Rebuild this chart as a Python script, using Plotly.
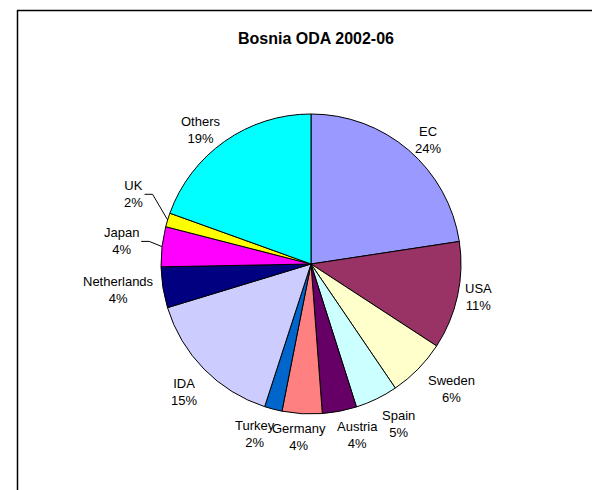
import math
import plotly.graph_objects as go

# ---- data ----
donors = ["EC", "USA", "Sweden", "Spain", "Austria", "Germany", "Turkey",
          "IDA", "Netherlands", "Japan", "UK", "Others"]
shares = [22.6, 11.6, 6.3, 4.6, 3.7, 4.3, 1.9, 15.3, 4.4, 4.3, 1.5, 19.5]
pct_labels = ["24%", "11%", "6%", "5%", "4%", "4%", "2%", "15%", "4%", "4%", "2%", "19%"]
colors = ["#9999FF", "#993366", "#FFFFCC", "#CCFFFF", "#660066", "#FF8080",
          "#0066CC", "#CCCCFF", "#000080", "#FF00FF", "#FFFF00", "#00FFFF"]
title_text = "Bosnia ODA 2002-06"

# ---- layout geometry (pixels) ----
W, H = 592, 490
cx, cy, r = 311, 264, 150
FONT = "Liberation Sans, Arial, sans-serif"
FS = 13
LINE_H = 17

# label placement tweaks (layout only), in pixels: (dx, dy)
label_nudge = {"EC": (3, 0), "USA": (-4, -7), "Sweden": (8, 3), "Spain": (9, 4),
               "Austria": (12, 1), "Germany": (-1, 0), "Turkey": (-10, 2),
               "IDA": (-2, 6), "Netherlands": (2, -4), "Japan": (-11, -7),
               "UK": (-14, -24), "Others": (-6, 0)}
leader_labels = {"UK", "Japan"}

# approximate Arial advance widths (1/1000 em)
AW = {c: 556 for c in "abdeghnopqu0123456789"}
AW.update({"c": 500, "f": 278, "i": 222, "j": 222, "k": 500, "l": 222, "m": 833,
           "r": 333, "s": 500, "t": 278, "v": 500, "w": 722, "x": 500, "y": 500,
           "z": 500, "A": 667, "B": 667, "C": 722, "D": 722, "E": 667, "F": 611,
           "G": 778, "H": 722, "I": 278, "J": 500, "K": 667, "L": 556, "M": 833,
           "N": 722, "O": 778, "P": 667, "R": 722, "S": 667, "T": 611, "U": 722,
           "V": 667, "W": 944, "%": 889, " ": 278})


def text_w(t):
    return sum(AW.get(ch, 556) for ch in t) * FS / 1000.0


def px(x):
    return x / W


def py(y):
    return 1 - y / H


fig = go.Figure(go.Pie(
    labels=donors,
    values=shares,
    sort=False,
    direction="clockwise",
    rotation=0,
    marker=dict(colors=colors, line=dict(color="#000000", width=1)),
    textinfo="none",
    showlegend=False,
    hoverinfo="label+percent",
    domain=dict(x=[px(cx - r), px(cx + r)], y=[py(cy + r), py(cy - r)]),
))

# ---- outside labels, placed from the slice mid-angles ----
total = sum(shares)
annotations = []
shapes = []
cum = 0.0
for name, v, pl in zip(donors, shares, pct_labels):
    mid = (cum + v / 2.0) / total
    cum += v
    th = 2 * math.pi * mid
    s, c = math.sin(th), math.cos(th)
    w = max(text_w(name), text_w(pl))
    dx, dy = label_nudge.get(name, (0, 0))
    x = cx + s * (r + 12 + w / 2.0) + dx
    y = cy - c * (r + 19) + 4 + dy
    annotations.append(dict(
        x=px(x), y=py(y), xref="paper", yref="paper",
        text=name + "<br>" + pl, showarrow=False, xanchor="center", yanchor="middle",
        align="center", font=dict(family=FONT, size=FS, color="#000000"),
    ))
    if name in leader_labels:
        ex, ey = cx + s * r, cy - c * r
        x0 = x + w / 2.0 + 2
        path = "M {:.6f},{:.6f} L {:.6f},{:.6f} L {:.6f},{:.6f}".format(
            px(x0), py(y), px(x0 + 8), py(y), px(ex), py(ey))
        shapes.append(dict(type="path", xref="paper", yref="paper", path=path,
                           line=dict(color="#000000", width=1)))

shapes += [
    dict(type="line", xref="paper", yref="paper", x0=px(17), x1=1.0,
         y0=py(10.5), y1=py(10.5), line=dict(color="#000000", width=1.5)),
    dict(type="line", xref="paper", yref="paper", x0=px(17.5), x1=px(17.5),
         y0=0, y1=py(10), line=dict(color="#000000", width=1.5)),
]

fig.update_layout(
    width=W, height=H,
    margin=dict(l=0, r=0, t=0, b=0),
    paper_bgcolor="#FFFFFF",
    plot_bgcolor="#FFFFFF",
    title=dict(text="<b>" + title_text + "</b>", x=px(316), xanchor="center",
               y=py(38), yanchor="middle",
               font=dict(family=FONT, size=16, color="#000000")),
    annotations=annotations,
    shapes=shapes,
)

fig.write_html(
    "out.html",
    config={"displayModeBar": False},
    post_script=("document.body.style.margin='0';"
                 "document.body.style.overflow='hidden';"
                 "document.documentElement.style.overflow='hidden';"
                 "window.scrollTo(0,0);"),
)
